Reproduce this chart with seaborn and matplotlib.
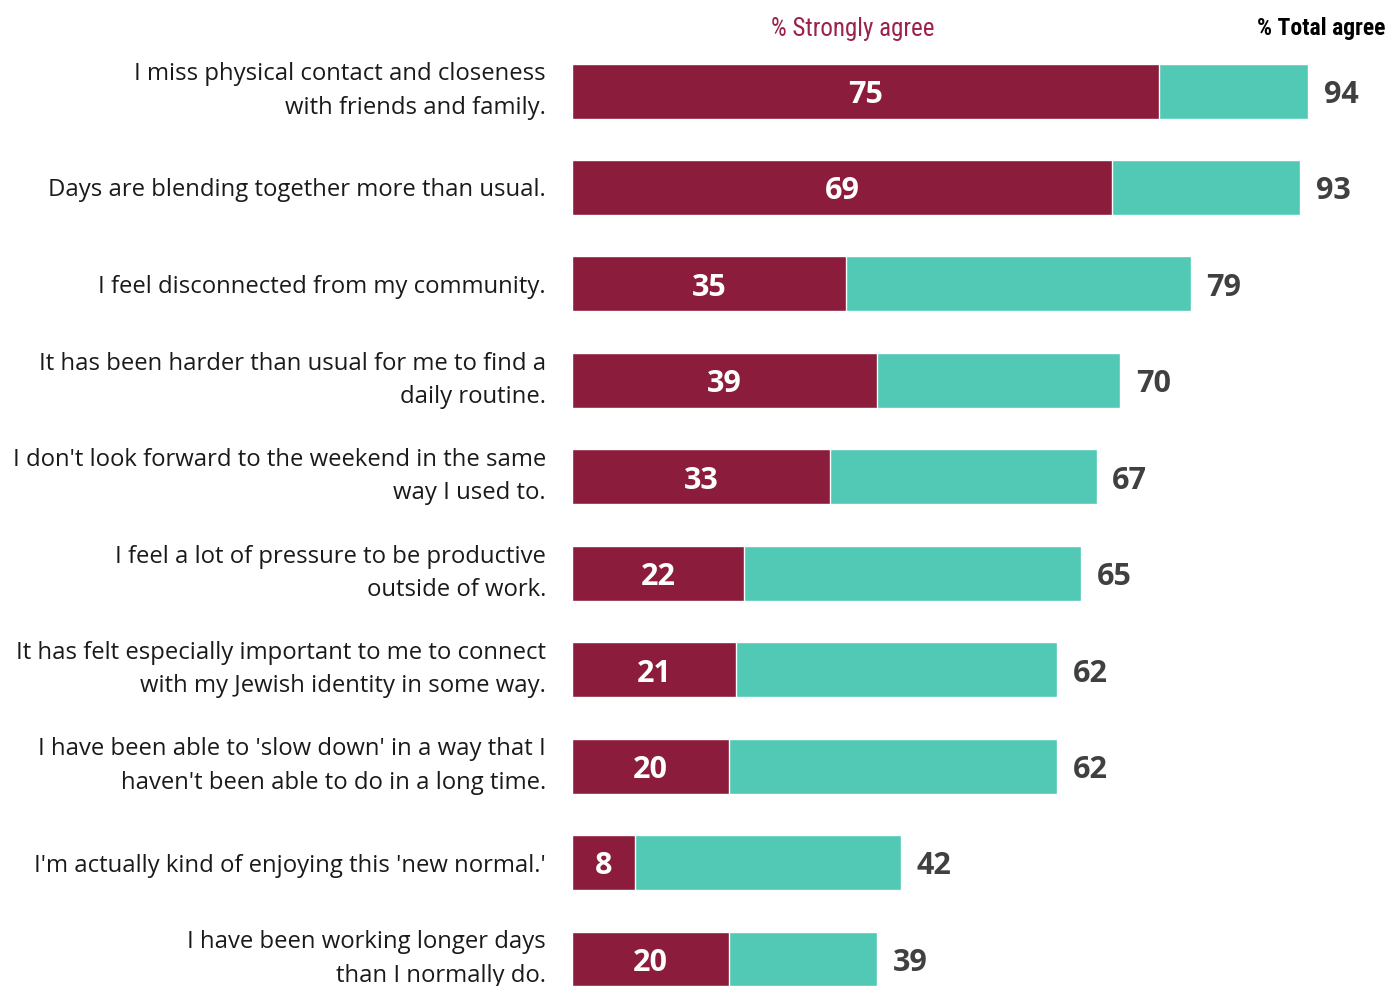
import matplotlib
matplotlib.use("Agg")
import matplotlib.pyplot as plt
import seaborn as sns
import pandas as pd

statements = [
    "I miss physical contact and closeness\nwith friends and family.",
    "Days are blending together more than usual.",
    "I feel disconnected from my community.",
    "It has been harder than usual for me to find a\ndaily routine.",
    "I don't look forward to the weekend in the same\nway I used to.",
    "I feel a lot of pressure to be productive\noutside of work.",
    "It has felt especially important to me to connect\nwith my Jewish identity in some way.",
    "I have been able to 'slow down' in a way that I\nhaven't been able to do in a long time.",
    "I'm actually kind of enjoying this 'new normal.'",
    "I have been working longer days\nthan I normally do.",
]
strongly_agree = [75, 69, 35, 39, 33, 22, 21, 20, 8, 20]
total_agree = [94, 93, 79, 70, 67, 65, 62, 62, 42, 39]

RED = "#8C1C3B"
TEAL = "#52C9B4"

df = pd.DataFrame({"statement": statements, "strong": strongly_agree, "total": total_agree})

sns.set_theme(style="white")
plt.rcParams["font.family"] = ["Open Sans", "DejaVu Sans"]

fig = plt.figure(figsize=(13.88, 9.86), dpi=100)
ax = fig.add_axes([572 / 1388, 0, 783 / 1388, 1])

sns.barplot(data=df, x="total", y="statement", color=TEAL, width=0.57,
            saturation=1, ax=ax, orient="h")
sns.barplot(data=df, x="strong", y="statement", color=RED, width=0.57,
            saturation=1, ax=ax, orient="h")

ax.set_xlim(0, 100)
ax.set_ylim(9.28, -0.944)
ax.set_xlabel("")
ax.set_ylabel("")
ax.set_xticks([])
for s in ax.spines.values():
    s.set_visible(False)
ax.tick_params(axis="y", length=0, pad=18.7)
for lab in ax.get_yticklabels():
    lab.set_fontsize(17.2)
    lab.set_color("#1a1a1a")
    lab.set_linespacing(1.52)
    lab.set_horizontalalignment("right")
    if "\n" in lab.get_text():
        lab.set_verticalalignment("center")

for i, (s, t) in enumerate(zip(strongly_agree, total_agree)):
    ax.text(s / 2, i + 0.04, str(s), ha="center", va="center", color="white",
            fontsize=22, fontweight="bold")
    ax.text(t + 2.0, i + 0.04, str(t), ha="left", va="center", color="#404040",
            fontsize=22, fontweight="bold")

hdr_font = ["Roboto Condensed", "Liberation Sans Narrow", "DejaVu Sans"]
fig.text(853 / 1388, 1 - 29 / 986, "% Strongly agree", ha="center", va="center",
         color="#9B2248", fontsize=18, family=hdr_font, fontstretch="condensed")
fig.text(1385 / 1388, 1 - 29 / 986, "% Total agree", ha="right", va="center",
         color="black", fontsize=17, family=hdr_font, fontweight="bold",
         fontstretch="condensed")

fig.savefig("out.png", dpi=100)
